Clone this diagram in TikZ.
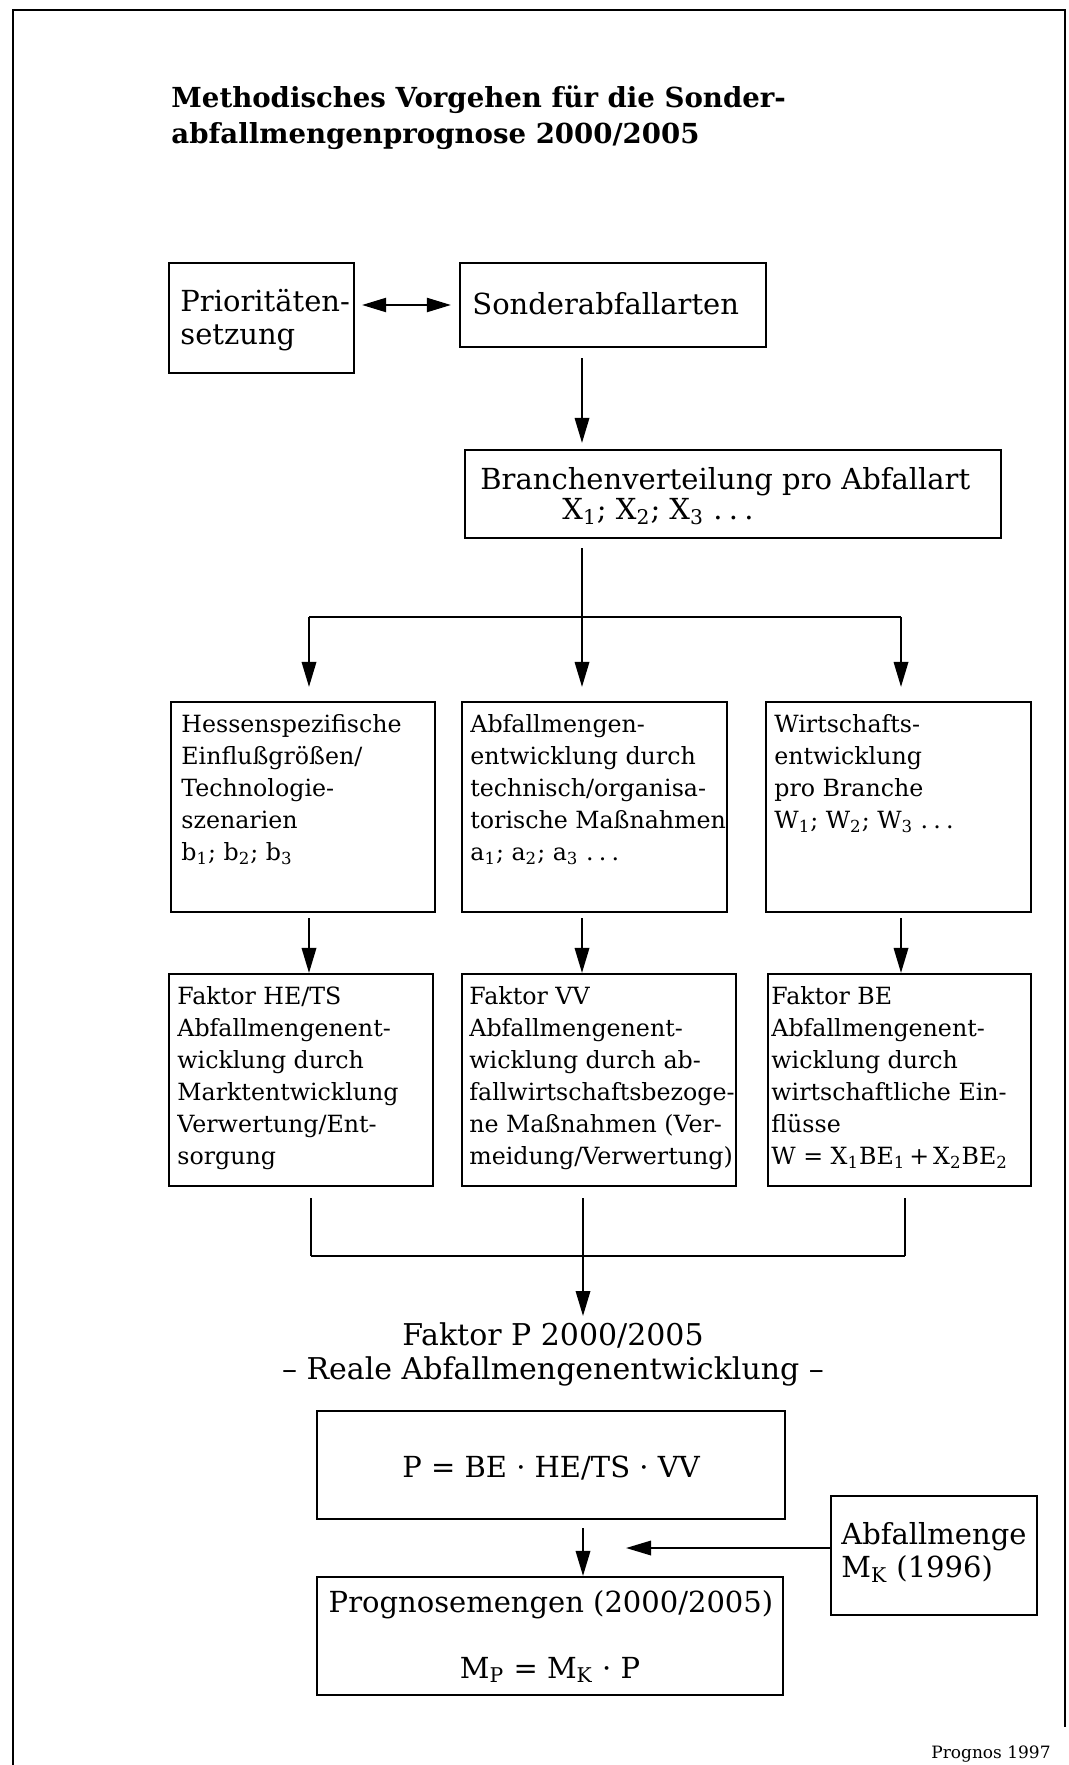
\documentclass[tikz,border=0pt]{standalone}
\usepackage{fontspec}
\setmainfont{DejaVu Serif}
\usetikzlibrary{arrows.meta,fit}
\newcommand\fsmall{\fontsize{11.85pt}{16pt}\selectfont}
\newcommand\flarge{\fontsize{14.5pt}{16.5pt}\selectfont}
\newcommand\fbig{\fontsize{15pt}{16.8pt}\selectfont}
\newcommand\ftitle{\fontsize{13.8pt}{18pt}\selectfont\bfseries}
\newcommand\fnote{\fontsize{8.5pt}{10pt}\selectfont}
\newcommand\mysub[1]{\textsubscript{#1}}
\newcommand\mydots{.\hspace{0.22em}.\hspace{0.22em}.}
\begin{document}
\begin{tikzpicture}[x=0.5pt,y=-0.5pt,
  box/.style={draw, line width=1.05pt, inner sep=0pt},
  ln/.style={line width=1.05pt},
  arr/.style={line width=1.05pt, -{Triangle[length=12.5pt,width=7.2pt]}},
  darr/.style={line width=1.05pt, {Triangle[length=12pt,width=7pt]}-{Triangle[length=12pt,width=7pt]}},
  stxt/.style={inner sep=0pt, anchor=north west, align=left, font=\fsmall},
  ltxt/.style={inner sep=0pt, anchor=north west, align=left, font=\flarge},
  ctxt/.style={inner sep=0pt, anchor=base, font=\flarge}]
\useasboundingbox (0,0) rectangle (1069,1765);
\draw[line width=1.4pt] (13,1765) -- (13,10) -- (1065,10) -- (1065,1727);

% title
\node[inner sep=0pt, anchor=north west, align=left, font=\ftitle] (title) at (171,82)
  {\strut Methodisches Vorgehen für die Sonder-\\abfallmengenprognose 2000/2005};

% top boxes
\node[box, fit={(169,263)(354,373)}] (prio) {};
\node[ltxt] (tprio) at (180,288) {\strut Prioritäten-\\setzung};
\node[box, fit={(460,263)(766,347)}] (sonder) {};
\node[ltxt] (tson) at (472,291) {\strut Sonderabfallarten};
\node[box, fit={(465,450)(1001,538)}] (branch) {};
\node[ltxt] (tbr) at (480,466) {\strut Branchenverteilung pro Abfallart\\[-1.5pt]\hspace*{41pt}X\mysub{1}; X\mysub{2}; X\mysub{3} \mydots};

% column coordinates
\coordinate (cL) at (309,0);
\coordinate (cM) at (582,0);
\coordinate (cR) at (901,0);
\coordinate (d0) at (582,617);
\coordinate (dL) at (309,617);
\coordinate (dR) at (901,617);

% row 1
\node[box, fit={(171,702)(435,912)}] (L1) {};
\node[box, fit={(462,702)(727,912)}] (M1) {};
\node[box, fit={(766,702)(1031,912)}] (R1) {};
\node[stxt] (tL1) at (181,710) {\strut Hessenspezifische\\Einflußgrößen/\\Technologie-\\szenarien\\b\mysub{1}; b\mysub{2}; b\mysub{3}};
\node[stxt] (tM1) at (470,710) {\strut Abfallmengen-\\entwicklung durch\\technisch/organisa-\\torische Maßnahmen\\a\mysub{1}; a\mysub{2}; a\mysub{3} \mydots};
\node[stxt] (tR1) at (774,710) {\strut Wirtschafts-\\entwicklung\\pro Branche\\W\mysub{1}; W\mysub{2}; W\mysub{3} \mydots};

% row 2
\node[box, fit={(169,974)(433,1186)}] (L2) {};
\node[box, fit={(462,974)(736,1186)}] (M2) {};
\node[box, fit={(768,974)(1031,1186)}] (R2) {};
\node[stxt] (tL2) at (177,982) {\strut Faktor HE/TS\\Abfallmengenent-\\wicklung durch\\Marktentwicklung\\Verwertung/Ent-\\sorgung};
\node[stxt] (tM2) at (469,982) {\strut Faktor VV\\Abfallmengenent-\\wicklung durch ab-\\fallwirtschaftsbezoge-\\ne Maßnahmen (Ver-\\meidung/Verwertung)};
\node[stxt] (tR2) at (771,982) {\strut Faktor BE\\Abfallmengenent-\\wicklung durch\\wirtschaftliche Ein-\\flüsse\\W = X\mysub{1}BE\mysub{1}\,+\,X\mysub{2}BE\mysub{2}};

% merge coordinates
\coordinate (mL) at (311,1256);
\coordinate (mM) at (583,1256);
\coordinate (mR) at (905,1256);

% Faktor P
\node[inner sep=0pt, anchor=north, align=center, font=\fbig] (fakP) at (553,1322)
  {\strut Faktor P 2000/2005\\– Reale Abfallmengenentwicklung –};

% bottom boxes
\node[box, fit={(317,1411)(785,1519)}] (pbox) {};
\node[ctxt] (ptxt) at (551,1477) {P = BE · HE/TS · VV};
\node[box, fit={(831,1496)(1037,1615)}] (abf) {};
\node[ltxt] (tabf) at (841,1521) {\strut Abfallmenge\\M\mysub{K} (1996)};
\node[box, fit={(317,1577)(783,1695)}] (prog) {};
\node[ctxt] (pr1) at (551,1612) {Prognosemengen (2000/2005)};
\node[ctxt] (pr2) at (550,1678) {M\mysub{P} = M\mysub{K} · P};
\coordinate (aend) at (626,1548);

\node[inner sep=0pt, anchor=base east, font=\fnote] (src) at (1051,1758) {Prognos 1997};

% connectors
\draw[darr, shorten <=3.5pt, shorten >=4pt] (prio.east |- sonder.west) -- (sonder.west);
\draw[arr, shorten <=5pt, shorten >=3pt] (sonder.south -| cM) -- (branch.north -| cM);
\draw[ln, shorten <=4.5pt] (branch.south -| cM) -- (d0);
\draw[ln] (dL) -- (dR);
\draw[arr, shorten >=7pt] (dL) -- (L1.north -| dL);
\draw[arr, shorten >=7pt] (d0) -- (M1.north -| d0);
\draw[arr, shorten >=7pt] (dR) -- (R1.north -| dR);
\draw[arr, shorten <=2.5pt] (L1.south -| cL) -- (L2.north -| cL);
\draw[arr, shorten <=2.5pt] (M1.south -| cM) -- (M2.north -| cM);
\draw[arr, shorten <=2.5pt] (R1.south -| cR) -- (R2.north -| cR);
\draw[ln, shorten <=5.5pt] (L2.south -| mL) -- (mL);
\draw[ln, shorten <=5.5pt] (R2.south -| mR) -- (mR);
\draw[ln] (mL) -- (mR);
\draw[arr, shorten <=5.5pt, shorten >=3pt] (M2.south -| mM) -- (fakP.north -| mM);
\draw[arr, shorten <=4pt] (pbox.south -| mM) -- (prog.north -| mM);
\draw[arr] (abf.west |- aend) -- (aend);
\end{tikzpicture}
\end{document}
